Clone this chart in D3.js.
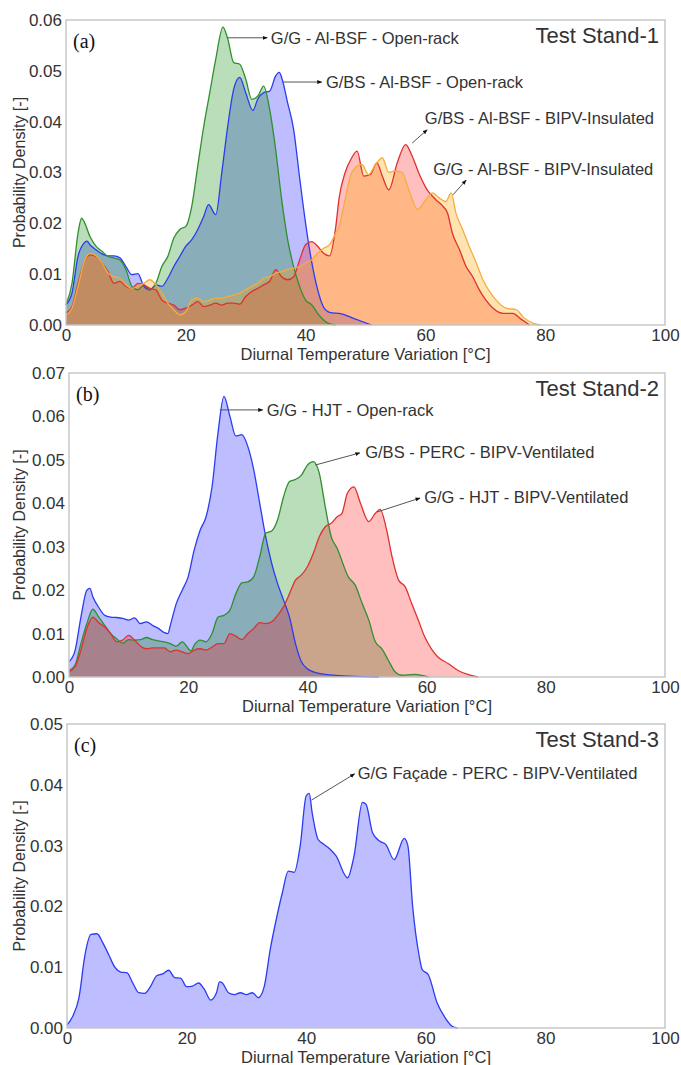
<html>
<head>
<meta charset="utf-8">
<style>
  body { margin: 0; background: #fff; font-family: "Liberation Sans", Arial, sans-serif; }
  svg { display: block; }
</style>
<script src="https://cdn.jsdelivr.net/npm/d3@7"></script>
</head>
<body>
<svg id="chart"></svg>
<script>
// ---- data: [diurnal temperature variation (°C), probability density] ----
// Test Stand-1
const ggAlbsfOpen = [[0,0.004],[1,0.0082],[2,0.018],[2.6,0.021],[3,0.0204],[4,0.0174],[5,0.0155],[6,0.0145],[7,0.0135],[8,0.0132],[9,0.0128],[10,0.0109],[11,0.0076],[12,0.0069],[13,0.0079],[14,0.0069],[15,0.0082],[16,0.0115],[17,0.0135],[18,0.0171],[19,0.0188],[20,0.0194],[21,0.0234],[22,0.0313],[23,0.0391],[24,0.0457],[25,0.0523],[26.2,0.0586],[27,0.0563],[28,0.0516],[29,0.0513],[30,0.0484],[31,0.0444],[32,0.045],[33,0.047],[34,0.0424],[35,0.0345],[36,0.0247],[37,0.0168],[38,0.0115],[39,0.0076],[40,0.0049],[41,0.004],[42,0.0023],[43,0.001],[44,0.0002],[45,0]];
const gbsAlbsfOpen = [[0,0.004],[1,0.0063],[2,0.0135],[3,0.0161],[3.5,0.0165],[4,0.0158],[5,0.0148],[6,0.014],[7,0.0136],[8,0.0136],[9,0.0132],[10,0.0115],[11,0.0099],[12,0.0101],[13,0.0076],[14,0.0069],[15,0.0079],[16,0.0076],[17,0.0092],[18,0.0115],[19,0.0135],[20,0.0155],[21,0.0168],[22,0.0188],[23,0.0214],[23.8,0.0237],[25,0.0217],[26,0.0299],[27,0.0391],[28,0.0464],[29,0.0487],[30,0.0457],[31.2,0.0422],[32,0.0444],[33,0.0457],[34,0.046],[35,0.049],[35.6,0.0497],[36,0.0487],[37,0.0437],[38,0.0385],[39,0.029],[40,0.02],[41,0.0125],[42,0.007],[43,0.0035],[44,0.0025],[46,0.0022],[48,0.0013],[51,0]];
const gbsAlbsfBipv = [[0,0.0023],[1,0.0036],[2,0.0082],[3,0.0122],[4,0.0138],[5,0.0135],[6,0.0122],[7,0.0105],[8,0.0082],[9,0.0086],[10,0.0076],[11,0.0072],[12,0.0082],[13,0.0079],[14,0.0072],[15,0.0069],[16,0.0049],[17,0.0043],[18,0.0039],[19,0.003],[20,0.0033],[21,0.0039],[22,0.0046],[23,0.0036],[24,0.0039],[25,0.0043],[26,0.0039],[27,0.0043],[28,0.0043],[29,0.0041],[30,0.0056],[31,0.0066],[32,0.0072],[33,0.0079],[34,0.0086],[35,0.0109],[36,0.0095],[37,0.0089],[38,0.0095],[39,0.0128],[40,0.0158],[41,0.0164],[42,0.0155],[43,0.0141],[44,0.0136],[45,0.019],[45.6,0.025],[46.6,0.03],[47.7,0.0329],[48.6,0.0342],[49.7,0.0293],[50.8,0.0296],[51.9,0.0319],[52.8,0.0293],[53.9,0.0266],[55.3,0.0319],[56.7,0.0355],[57.8,0.0332],[59,0.0296],[60.3,0.0266],[61.7,0.0247],[62.9,0.0234],[63.7,0.022],[64.5,0.0181],[65.7,0.0148],[66.8,0.0115],[67.9,0.0095],[69,0.0069],[70.1,0.0049],[71.3,0.0033],[73,0.0023],[74.6,0.0023],[75.8,0.0013],[77.4,0]];
const ggAlbsfBipv = [[0,0.002],[1,0.0033],[2,0.0076],[3,0.0122],[4,0.0141],[5,0.0136],[6,0.0122],[7,0.0102],[8,0.0095],[9,0.0092],[10,0.0079],[11,0.0072],[12,0.0076],[13,0.0082],[14,0.0089],[15,0.0079],[16,0.0063],[17,0.0043],[18,0.003],[19,0.002],[20,0.0026],[21,0.0049],[22,0.0053],[23,0.0046],[24,0.0049],[25,0.0053],[26,0.0053],[27,0.0056],[28,0.0059],[29,0.0063],[30,0.0069],[31,0.0076],[32,0.0082],[33,0.0092],[34,0.0095],[35,0.0102],[36,0.0105],[37,0.0109],[38,0.0112],[39,0.0115],[40,0.0122],[41,0.0128],[42,0.0141],[43,0.0151],[44,0.0158],[45,0.018],[45.6,0.0194],[46.6,0.0247],[47.7,0.03],[49.4,0.0316],[50.5,0.0296],[51.7,0.0316],[52.8,0.0329],[53.9,0.03],[55,0.0303],[56.1,0.03],[57.3,0.0263],[58.7,0.0227],[60.1,0.0247],[61.2,0.026],[62.3,0.025],[63.4,0.0243],[64.3,0.026],[65.1,0.022],[66.2,0.0188],[67.3,0.0155],[68.5,0.0122],[69.6,0.0089],[70.7,0.0066],[71.8,0.0049],[73.5,0.0033],[75.2,0.003],[76.3,0.0016],[78,0.0003],[79.2,0]];
// Test Stand-2
const ggHjtOpen = [[0,0.0035],[1,0.006],[2,0.0138],[3,0.02],[3.5,0.0204],[4,0.0185],[5,0.016],[6,0.0142],[7,0.0138],[8,0.0137],[9,0.0135],[10,0.0131],[11,0.0136],[12,0.0123],[13,0.0127],[14,0.0119],[15,0.0112],[16,0.0102],[16.6,0.01],[17,0.0119],[18,0.0169],[19,0.02],[20,0.0231],[21,0.0292],[22,0.0338],[23,0.0369],[24,0.0438],[25,0.0562],[26,0.0646],[27,0.06],[28,0.0555],[29,0.0558],[30,0.0531],[31,0.0477],[32,0.04],[33,0.0323],[34,0.0262],[35,0.0215],[36,0.0177],[37,0.0138],[38,0.0077],[39,0.0035],[40,0.0019],[41,0.0012],[43,0.0006],[47,0.0002],[52,0]];
const gbsPercVent = [[0,0.0015],[1,0.0027],[2,0.0077],[3,0.0123],[4,0.0156],[5,0.0138],[6,0.0119],[7,0.01],[8,0.0088],[9,0.0078],[10,0.0086],[11,0.0085],[12,0.0086],[13,0.0091],[14,0.0086],[15,0.0083],[16,0.0081],[17,0.0077],[18,0.0071],[19,0.0081],[20.5,0.006],[21,0.0073],[22,0.0085],[23,0.0081],[24,0.01],[25,0.0138],[26,0.0142],[27,0.0154],[28,0.0192],[29,0.0217],[30,0.0219],[31,0.0231],[32,0.0277],[33,0.0331],[34,0.0336],[35,0.0362],[36,0.0415],[37,0.045],[38,0.0455],[39,0.0465],[40,0.0488],[41,0.0496],[42,0.0469],[43,0.0392],[44,0.0323],[45,0.0296],[46.9,0.023],[48,0.0212],[49.2,0.0169],[50.3,0.0131],[51.4,0.0081],[52.5,0.0065],[53.6,0.0038],[54.7,0.0012],[55.8,0.0004],[58,0.0006],[60.3,0]];
const ggHjtVent = [[0,0.0012],[1,0.0023],[2,0.0062],[3,0.0112],[4,0.0138],[5,0.0125],[6,0.0115],[7,0.01],[8,0.0081],[9,0.0085],[10,0.0096],[11,0.0085],[12,0.0071],[13,0.0065],[14,0.0067],[15,0.0067],[16,0.0067],[17,0.0058],[18,0.0062],[19,0.0058],[20,0.0054],[21,0.0062],[22,0.0065],[23,0.0062],[24,0.0069],[25,0.0077],[26,0.0077],[27,0.01],[28,0.0094],[29,0.0086],[30,0.01],[31,0.0112],[32,0.0125],[33,0.0123],[34,0.0127],[35,0.0142],[36,0.0162],[37,0.0192],[38,0.0223],[39,0.0235],[40,0.0254],[41,0.0285],[42,0.0323],[43,0.0346],[44,0.0354],[45,0.0369],[45.8,0.0377],[46.7,0.0423],[47.8,0.0438],[48.9,0.04],[50.3,0.0358],[51.4,0.0377],[52.2,0.0386],[53.3,0.0338],[54.2,0.0277],[55.3,0.0223],[56.4,0.0208],[57.5,0.0169],[58.6,0.0131],[59.7,0.0092],[60.8,0.0065],[61.9,0.0046],[63.6,0.0031],[65.3,0.0015],[66.9,0.0006],[68.6,0]];
// Test Stand-3
const ggFacadePercVent = [[0,0.0005],[1,0.002],[2,0.005],[3,0.012],[4,0.0154],[5,0.0155],[6,0.014],[7,0.012],[8,0.01],[9,0.0092],[10,0.0091],[11,0.0074],[12,0.0058],[13,0.0057],[14,0.0069],[15,0.0086],[16,0.0089],[17,0.0095],[18,0.0083],[19,0.0082],[20,0.0068],[21,0.0069],[22,0.0074],[23,0.0063],[24,0.0046],[25,0.0058],[25.5,0.0076],[26,0.0074],[27,0.0058],[28,0.0055],[29,0.0058],[30,0.0055],[31,0.0058],[32,0.005],[33,0.0069],[34,0.013],[35,0.0179],[36,0.0222],[37,0.0258],[38,0.0256],[39,0.03],[40,0.0382],[40.5,0.0386],[41,0.0354],[42,0.031],[43,0.0302],[44,0.0294],[45,0.0283],[46.9,0.0247],[48,0.0283],[49.4,0.0371],[50,0.0368],[51.1,0.0321],[52.2,0.0308],[53.3,0.0302],[54.7,0.0277],[56.4,0.0312],[57,0.03],[57.8,0.02],[58.9,0.0118],[59.4,0.0096],[60.4,0.0088],[61.9,0.0041],[63.3,0.0016],[64.4,0.0003],[65.3,0]];

const xTicks = [0, 20, 40, 60, 80, 100];
const yTicksA = [0, 0.01, 0.02, 0.03, 0.04, 0.05, 0.06];
const yTicksB = [0, 0.01, 0.02, 0.03, 0.04, 0.05, 0.06, 0.07];
const yTicksC = [0, 0.01, 0.02, 0.03, 0.04, 0.05];

const kleuren = {
  blue:   { line: "#2b3cf0", fill: "#0000ff", op: 0.26 },
  green:  { line: "#2f8f2f", fill: "#008000", op: 0.27 },
  red:    { line: "#e03030", fill: "#ff0000", op: 0.25 },
  orange: { line: "#f2ad3e", fill: "#ffa500", op: 0.30 }
};

const panelen = [
  { tag: "(a)", titel: "Test Stand-1", top: 20, bottom: 325, left: 66, yTicks: yTicksA,
    series: [[gbsAlbsfOpen, "blue"], [ggAlbsfOpen, "green"], [gbsAlbsfBipv, "red"], [ggAlbsfBipv, "orange"]],
    notas: [
      { from: [27.0, 0.0565], to: [33.6, 0.0565], at: [34.2, 0.0565], txt: "G/G - Al-BSF - Open-rack" },
      { from: [36.2, 0.0478], to: [42.7, 0.0478], at: [43.4, 0.0478], txt: "G/BS - Al-BSF - Open-rack" },
      { from: [57.8, 0.0358], to: [60.3, 0.0384], at: [59.9, 0.0407], txt: "G/BS - Al-BSF - BIPV-Insulated" },
      { from: [64.6, 0.0256], to: [66.8, 0.0285], at: [61.3, 0.0307], txt: "G/G - Al-BSF - BIPV-Insulated" }
    ] },
  { tag: "(b)", titel: "Test Stand-2", top: 373, bottom: 677, left: 69, yTicks: yTicksB,
    series: [[ggHjtOpen, "blue"], [gbsPercVent, "green"], [ggHjtVent, "red"]],
    notas: [
      { from: [25.3, 0.0615], to: [32.5, 0.0615], at: [33.2, 0.0615], txt: "G/G - HJT - Open-rack" },
      { from: [41.3, 0.0488], to: [48.8, 0.0516], at: [49.7, 0.0518], txt: "G/BS - PERC - BIPV-Ventilated" },
      { from: [51.7, 0.0380], to: [58.9, 0.0412], at: [59.6, 0.0414], txt: "G/G - HJT - BIPV-Ventilated" }
    ] },
  { tag: "(c)", titel: "Test Stand-3", top: 724, bottom: 1028, left: 67, yTicks: yTicksC,
    series: [[ggFacadePercVent, "blue"]],
    notas: [
      { from: [40.9, 0.0375], to: [48.1, 0.0418], at: [48.6, 0.0419], txt: "G/G Façade - PERC - BIPV-Ventilated" }
    ] }
];

const ancho = 681, alto = 1065, derecha = 665;
const svg = d3.select("#chart").attr("width", ancho).attr("height", alto);
svg.append("rect").attr("width", ancho).attr("height", alto).attr("fill", "#fff");

const defs = svg.append("defs");
defs.append("marker").attr("id", "punta")
    .attr("viewBox", "0 0 10 10").attr("refX", 9).attr("refY", 5)
    .attr("markerWidth", 5).attr("markerHeight", 5).attr("orient", "auto")
  .append("path").attr("d", "M0,1 L10,5 L0,9 z").attr("fill", "#111");

function dibujarPanel(p) {
  const x = d3.scaleLinear().domain([0, 100]).range([p.left, derecha]);
  const yMax = p.yTicks[p.yTicks.length - 1];
  const y = d3.scaleLinear().domain([0, yMax]).range([p.bottom, p.top]);
  const g = svg.append("g");

  const area = d3.area().x(d => x(d[0])).y0(y(0)).y1(d => y(d[1])).curve(d3.curveMonotoneX);
  const linea = d3.line().x(d => x(d[0])).y(d => y(d[1])).curve(d3.curveMonotoneX);

  p.series.forEach(([datos, c]) => {
    const k = kleuren[c];
    g.append("path").datum(datos).attr("d", area)
      .attr("fill", k.fill).attr("fill-opacity", k.op);
  });
  p.series.forEach(([datos, c]) => {
    g.append("path").datum(datos).attr("d", linea)
      .attr("fill", "none").attr("stroke", kleuren[c].line).attr("stroke-width", 1.3);
  });

  // frame
  g.append("rect").attr("x", p.left).attr("y", p.top)
    .attr("width", derecha - p.left).attr("height", p.bottom - p.top)
    .attr("fill", "none").attr("stroke", "#c4c4c4").attr("stroke-width", 1.4);

  // axes without tick marks
  const ejeX = g.append("g").attr("transform", `translate(0,${p.bottom})`)
    .call(d3.axisBottom(x).tickValues(xTicks).tickSize(0).tickPadding(4).tickFormat(d3.format("d")));
  const ejeY = g.append("g").attr("transform", `translate(${p.left},0)`)
    .call(d3.axisLeft(y).tickValues(p.yTicks).tickSize(0).tickPadding(4).tickFormat(d3.format(".2f")));
  [ejeX, ejeY].forEach(e => {
    e.select(".domain").remove();
    e.selectAll("text").attr("font-family", "'Liberation Sans', Arial, sans-serif")
      .attr("font-size", 17).attr("fill", "#333");
  });

  g.append("text").attr("x", (p.left + derecha) / 2).attr("y", p.bottom + 35)
    .attr("text-anchor", "middle").attr("font-size", 16.5).attr("fill", "#333")
    .text("Diurnal Temperature Variation [°C]");
  g.append("text").attr("transform", `translate(25,${(p.top + p.bottom) / 2}) rotate(-90)`)
    .attr("text-anchor", "middle").attr("font-size", 16).attr("fill", "#333")
    .text("Probability Density [-]");

  g.append("text").attr("x", derecha - 6).attr("y", p.top + 23)
    .attr("text-anchor", "end").attr("font-size", 22).attr("fill", "#333").text(p.titel);
  g.append("text").attr("x", p.left + 7).attr("y", p.top + 28)
    .attr("font-family", "'Liberation Serif', 'Times New Roman', serif")
    .attr("font-size", 20).attr("fill", "#111").text(p.tag);

  p.notas.forEach(n => {
    g.append("line")
      .attr("x1", x(n.from[0])).attr("y1", y(n.from[1]))
      .attr("x2", x(n.to[0])).attr("y2", y(n.to[1]))
      .attr("stroke", "#555").attr("stroke-width", 1)
      .attr("marker-end", "url(#punta)");
    g.append("text").attr("x", x(n.at[0])).attr("y", y(n.at[1]))
      .attr("dominant-baseline", "central").attr("font-size", 16.5).attr("fill", "#333")
      .text(n.txt);
  });
}

panelen.forEach(dibujarPanel);
</script>
</body>
</html>
